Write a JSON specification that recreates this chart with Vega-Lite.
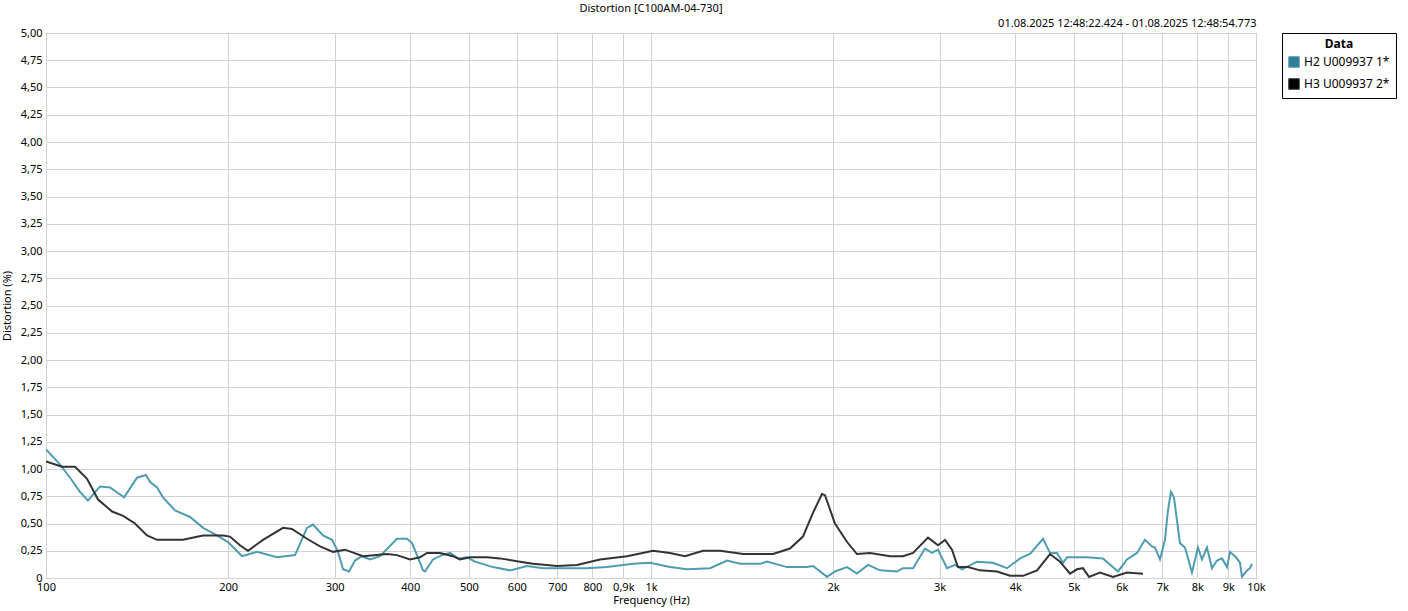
{
  "$schema": "https://vega.github.io/schema/vega-lite/v6.json",
  "autosize": {"type": "none"},
  "width": 1210,
  "height": 545,
  "padding": {"left": 46, "top": 33, "right": 152, "bottom": 33},
  "background": "white",
  "title": {"text": "Distortion [C100AM-04-730]", "anchor": "middle", "fontSize": 11, "fontWeight": "normal", "font": "Noto Sans", "color": "#000000", "offset": 3},
  "config": {
    "font": "Noto Sans",
    "view": {"stroke": "#7a7a7a", "strokeWidth": 1},
    "axis": {"labelFont": "Noto Sans", "labelFontSize": 11, "labelColor": "#000000", "titleFont": "Noto Sans", "titleFontSize": 11, "titleFontWeight": "normal", "titleColor": "#000000", "gridColor": "#d2d2d2", "gridWidth": 1, "domain": false, "ticks": false}
  },
  "data": {"values": [
    {"s": "H2 U009937 1*", "f": 100, "v": 1.18}, {"s": "H2 U009937 1*", "f": 105.5, "v": 1.04}, {"s": "H2 U009937 1*", "f": 109.6, "v": 0.92}, {"s": "H2 U009937 1*", "f": 113.8, "v": 0.79}, {"s": "H2 U009937 1*", "f": 117.3, "v": 0.71}, {"s": "H2 U009937 1*", "f": 122.8, "v": 0.84}, {"s": "H2 U009937 1*", "f": 127.6, "v": 0.83}, {"s": "H2 U009937 1*", "f": 134.6, "v": 0.74}, {"s": "H2 U009937 1*", "f": 141.4, "v": 0.92}, {"s": "H2 U009937 1*", "f": 146.3, "v": 0.945}, {"s": "H2 U009937 1*", "f": 148.6, "v": 0.88}, {"s": "H2 U009937 1*", "f": 152.6, "v": 0.83}, {"s": "H2 U009937 1*", "f": 156.1, "v": 0.74}, {"s": "H2 U009937 1*", "f": 163.4, "v": 0.62}, {"s": "H2 U009937 1*", "f": 173, "v": 0.56}, {"s": "H2 U009937 1*", "f": 181.8, "v": 0.46}, {"s": "H2 U009937 1*", "f": 191.7, "v": 0.39}, {"s": "H2 U009937 1*", "f": 199.9, "v": 0.33}, {"s": "H2 U009937 1*", "f": 209.2, "v": 0.22}, {"s": "H2 U009937 1*", "f": 210.8, "v": 0.2}, {"s": "H2 U009937 1*", "f": 223.2, "v": 0.24}, {"s": "H2 U009937 1*", "f": 240.9, "v": 0.19}, {"s": "H2 U009937 1*", "f": 258, "v": 0.21}, {"s": "H2 U009937 1*", "f": 270, "v": 0.46}, {"s": "H2 U009937 1*", "f": 276.3, "v": 0.49}, {"s": "H2 U009937 1*", "f": 287, "v": 0.39}, {"s": "H2 U009937 1*", "f": 297, "v": 0.35}, {"s": "H2 U009937 1*", "f": 303.9, "v": 0.24}, {"s": "H2 U009937 1*", "f": 309.7, "v": 0.08}, {"s": "H2 U009937 1*", "f": 316.8, "v": 0.06}, {"s": "H2 U009937 1*", "f": 324.2, "v": 0.16}, {"s": "H2 U009937 1*", "f": 332.9, "v": 0.2}, {"s": "H2 U009937 1*", "f": 343.2, "v": 0.17}, {"s": "H2 U009937 1*", "f": 356.5, "v": 0.2}, {"s": "H2 U009937 1*", "f": 380.3, "v": 0.36}, {"s": "H2 U009937 1*", "f": 395.1, "v": 0.36}, {"s": "H2 U009937 1*", "f": 402.7, "v": 0.32}, {"s": "H2 U009937 1*", "f": 410.4, "v": 0.21}, {"s": "H2 U009937 1*", "f": 419.9, "v": 0.07}, {"s": "H2 U009937 1*", "f": 423.1, "v": 0.06}, {"s": "H2 U009937 1*", "f": 436.2, "v": 0.17}, {"s": "H2 U009937 1*", "f": 451.4, "v": 0.21}, {"s": "H2 U009937 1*", "f": 465.4, "v": 0.23}, {"s": "H2 U009937 1*", "f": 479.7, "v": 0.18}, {"s": "H2 U009937 1*", "f": 496.5, "v": 0.19}, {"s": "H2 U009937 1*", "f": 511.8, "v": 0.15}, {"s": "H2 U009937 1*", "f": 548.2, "v": 0.1}, {"s": "H2 U009937 1*", "f": 584.8, "v": 0.07}, {"s": "H2 U009937 1*", "f": 623.9, "v": 0.11}, {"s": "H2 U009937 1*", "f": 663, "v": 0.09}, {"s": "H2 U009937 1*", "f": 783.9, "v": 0.09}, {"s": "H2 U009937 1*", "f": 845.8, "v": 0.1}, {"s": "H2 U009937 1*", "f": 933.9, "v": 0.13}, {"s": "H2 U009937 1*", "f": 996.2, "v": 0.14}, {"s": "H2 U009937 1*", "f": 1075, "v": 0.1}, {"s": "H2 U009937 1*", "f": 1147, "v": 0.08}, {"s": "H2 U009937 1*", "f": 1252, "v": 0.09}, {"s": "H2 U009937 1*", "f": 1336, "v": 0.16}, {"s": "H2 U009937 1*", "f": 1404, "v": 0.13}, {"s": "H2 U009937 1*", "f": 1515, "v": 0.13}, {"s": "H2 U009937 1*", "f": 1555, "v": 0.15}, {"s": "H2 U009937 1*", "f": 1678, "v": 0.1}, {"s": "H2 U009937 1*", "f": 1811, "v": 0.1}, {"s": "H2 U009937 1*", "f": 1853, "v": 0.11}, {"s": "H2 U009937 1*", "f": 1954, "v": 0.01}, {"s": "H2 U009937 1*", "f": 2014, "v": 0.06}, {"s": "H2 U009937 1*", "f": 2109, "v": 0.1}, {"s": "H2 U009937 1*", "f": 2190, "v": 0.04}, {"s": "H2 U009937 1*", "f": 2284, "v": 0.12}, {"s": "H2 U009937 1*", "f": 2391, "v": 0.07}, {"s": "H2 U009937 1*", "f": 2551, "v": 0.06}, {"s": "H2 U009937 1*", "f": 2609, "v": 0.09}, {"s": "H2 U009937 1*", "f": 2711, "v": 0.09}, {"s": "H2 U009937 1*", "f": 2837, "v": 0.27}, {"s": "H2 U009937 1*", "f": 2914, "v": 0.23}, {"s": "H2 U009937 1*", "f": 2981, "v": 0.26}, {"s": "H2 U009937 1*", "f": 3085, "v": 0.09}, {"s": "H2 U009937 1*", "f": 3181, "v": 0.12}, {"s": "H2 U009937 1*", "f": 3266, "v": 0.08}, {"s": "H2 U009937 1*", "f": 3458, "v": 0.15}, {"s": "H2 U009937 1*", "f": 3675, "v": 0.14}, {"s": "H2 U009937 1*", "f": 3877, "v": 0.09}, {"s": "H2 U009937 1*", "f": 4074, "v": 0.18}, {"s": "H2 U009937 1*", "f": 4231, "v": 0.22}, {"s": "H2 U009937 1*", "f": 4446, "v": 0.36}, {"s": "H2 U009937 1*", "f": 4566, "v": 0.23}, {"s": "H2 U009937 1*", "f": 4689, "v": 0.23}, {"s": "H2 U009937 1*", "f": 4797, "v": 0.14}, {"s": "H2 U009937 1*", "f": 4871, "v": 0.19}, {"s": "H2 U009937 1*", "f": 5256, "v": 0.19}, {"s": "H2 U009937 1*", "f": 5585, "v": 0.18}, {"s": "H2 U009937 1*", "f": 5914, "v": 0.06}, {"s": "H2 U009937 1*", "f": 6120, "v": 0.17}, {"s": "H2 U009937 1*", "f": 6357, "v": 0.23}, {"s": "H2 U009937 1*", "f": 6553, "v": 0.35}, {"s": "H2 U009937 1*", "f": 6731, "v": 0.29}, {"s": "H2 U009937 1*", "f": 6808, "v": 0.28}, {"s": "H2 U009937 1*", "f": 6939, "v": 0.17}, {"s": "H2 U009937 1*", "f": 7072, "v": 0.35}, {"s": "H2 U009937 1*", "f": 7153, "v": 0.62}, {"s": "H2 U009937 1*", "f": 7235, "v": 0.79}, {"s": "H2 U009937 1*", "f": 7318, "v": 0.74}, {"s": "H2 U009937 1*", "f": 7487, "v": 0.32}, {"s": "H2 U009937 1*", "f": 7631, "v": 0.28}, {"s": "H2 U009937 1*", "f": 7837, "v": 0.05}, {"s": "H2 U009937 1*", "f": 8018, "v": 0.28}, {"s": "H2 U009937 1*", "f": 8141, "v": 0.17}, {"s": "H2 U009937 1*", "f": 8298, "v": 0.28}, {"s": "H2 U009937 1*", "f": 8457, "v": 0.09}, {"s": "H2 U009937 1*", "f": 8620, "v": 0.16}, {"s": "H2 U009937 1*", "f": 8786, "v": 0.18}, {"s": "H2 U009937 1*", "f": 8955, "v": 0.1}, {"s": "H2 U009937 1*", "f": 9057, "v": 0.24}, {"s": "H2 U009937 1*", "f": 9267, "v": 0.19}, {"s": "H2 U009937 1*", "f": 9409, "v": 0.14}, {"s": "H2 U009937 1*", "f": 9481, "v": 0.01}, {"s": "H2 U009937 1*", "f": 9663, "v": 0.07}, {"s": "H2 U009937 1*", "f": 9774, "v": 0.09}, {"s": "H2 U009937 1*", "f": 9849, "v": 0.13},
    {"s": "H3 U009937 2*", "f": 100, "v": 1.07}, {"s": "H3 U009937 2*", "f": 106.3, "v": 1.02}, {"s": "H3 U009937 2*", "f": 111.7, "v": 1.02}, {"s": "H3 U009937 2*", "f": 116.9, "v": 0.91}, {"s": "H3 U009937 2*", "f": 121.9, "v": 0.72}, {"s": "H3 U009937 2*", "f": 128.6, "v": 0.61}, {"s": "H3 U009937 2*", "f": 134.1, "v": 0.57}, {"s": "H3 U009937 2*", "f": 140.3, "v": 0.5}, {"s": "H3 U009937 2*", "f": 146.9, "v": 0.39}, {"s": "H3 U009937 2*", "f": 152.6, "v": 0.35}, {"s": "H3 U009937 2*", "f": 168.4, "v": 0.35}, {"s": "H3 U009937 2*", "f": 181.8, "v": 0.39}, {"s": "H3 U009937 2*", "f": 196.2, "v": 0.39}, {"s": "H3 U009937 2*", "f": 201.4, "v": 0.38}, {"s": "H3 U009937 2*", "f": 209.2, "v": 0.3}, {"s": "H3 U009937 2*", "f": 215.7, "v": 0.25}, {"s": "H3 U009937 2*", "f": 228.4, "v": 0.35}, {"s": "H3 U009937 2*", "f": 246.5, "v": 0.46}, {"s": "H3 U009937 2*", "f": 255, "v": 0.45}, {"s": "H3 U009937 2*", "f": 270, "v": 0.36}, {"s": "H3 U009937 2*", "f": 283.7, "v": 0.29}, {"s": "H3 U009937 2*", "f": 298.1, "v": 0.24}, {"s": "H3 U009937 2*", "f": 312.1, "v": 0.26}, {"s": "H3 U009937 2*", "f": 334.2, "v": 0.2}, {"s": "H3 U009937 2*", "f": 366.2, "v": 0.22}, {"s": "H3 U009937 2*", "f": 380.3, "v": 0.21}, {"s": "H3 U009937 2*", "f": 399.6, "v": 0.17}, {"s": "H3 U009937 2*", "f": 415.2, "v": 0.19}, {"s": "H3 U009937 2*", "f": 426.3, "v": 0.23}, {"s": "H3 U009937 2*", "f": 448, "v": 0.23}, {"s": "H3 U009937 2*", "f": 470.7, "v": 0.2}, {"s": "H3 U009937 2*", "f": 483.4, "v": 0.17}, {"s": "H3 U009937 2*", "f": 502.2, "v": 0.19}, {"s": "H3 U009937 2*", "f": 535.8, "v": 0.19}, {"s": "H3 U009937 2*", "f": 562.9, "v": 0.18}, {"s": "H3 U009937 2*", "f": 607.5, "v": 0.15}, {"s": "H3 U009937 2*", "f": 638.3, "v": 0.13}, {"s": "H3 U009937 2*", "f": 699.5, "v": 0.11}, {"s": "H3 U009937 2*", "f": 754.6, "v": 0.12}, {"s": "H3 U009937 2*", "f": 823.6, "v": 0.17}, {"s": "H3 U009937 2*", "f": 912.8, "v": 0.2}, {"s": "H3 U009937 2*", "f": 1008, "v": 0.25}, {"s": "H3 U009937 2*", "f": 1075, "v": 0.23}, {"s": "H3 U009937 2*", "f": 1138, "v": 0.2}, {"s": "H3 U009937 2*", "f": 1219, "v": 0.25}, {"s": "H3 U009937 2*", "f": 1301, "v": 0.25}, {"s": "H3 U009937 2*", "f": 1420, "v": 0.22}, {"s": "H3 U009937 2*", "f": 1591, "v": 0.22}, {"s": "H3 U009937 2*", "f": 1697, "v": 0.27}, {"s": "H3 U009937 2*", "f": 1783, "v": 0.38}, {"s": "H3 U009937 2*", "f": 1853, "v": 0.6}, {"s": "H3 U009937 2*", "f": 1917, "v": 0.77}, {"s": "H3 U009937 2*", "f": 1939, "v": 0.76}, {"s": "H3 U009937 2*", "f": 2014, "v": 0.5}, {"s": "H3 U009937 2*", "f": 2109, "v": 0.33}, {"s": "H3 U009937 2*", "f": 2190, "v": 0.22}, {"s": "H3 U009937 2*", "f": 2302, "v": 0.23}, {"s": "H3 U009937 2*", "f": 2484, "v": 0.2}, {"s": "H3 U009937 2*", "f": 2609, "v": 0.2}, {"s": "H3 U009937 2*", "f": 2711, "v": 0.23}, {"s": "H3 U009937 2*", "f": 2870, "v": 0.37}, {"s": "H3 U009937 2*", "f": 2981, "v": 0.3}, {"s": "H3 U009937 2*", "f": 3062, "v": 0.35}, {"s": "H3 U009937 2*", "f": 3144, "v": 0.26}, {"s": "H3 U009937 2*", "f": 3216, "v": 0.1}, {"s": "H3 U009937 2*", "f": 3341, "v": 0.1}, {"s": "H3 U009937 2*", "f": 3498, "v": 0.07}, {"s": "H3 U009937 2*", "f": 3732, "v": 0.06}, {"s": "H3 U009937 2*", "f": 3921, "v": 0.02}, {"s": "H3 U009937 2*", "f": 4120, "v": 0.02}, {"s": "H3 U009937 2*", "f": 4346, "v": 0.07}, {"s": "H3 U009937 2*", "f": 4566, "v": 0.22}, {"s": "H3 U009937 2*", "f": 4743, "v": 0.15}, {"s": "H3 U009937 2*", "f": 4927, "v": 0.04}, {"s": "H3 U009937 2*", "f": 5059, "v": 0.08}, {"s": "H3 U009937 2*", "f": 5176, "v": 0.09}, {"s": "H3 U009937 2*", "f": 5296, "v": 0.01}, {"s": "H3 U009937 2*", "f": 5522, "v": 0.05}, {"s": "H3 U009937 2*", "f": 5802, "v": 0.01}, {"s": "H3 U009937 2*", "f": 6120, "v": 0.05}, {"s": "H3 U009937 2*", "f": 6504, "v": 0.04}
  ]},
  "resolve": {"axis": {"x": "independent", "y": "independent"}},
  "layer": [
    {
      "mark": {"type": "line", "strokeWidth": 2, "clip": true},
      "encoding": {
        "x": {"field": "f", "type": "quantitative", "scale": {"type": "log", "domain": [100, 10000]},
          "axis": {"orient": "bottom", "title": "Frequency (Hz)", "titlePadding": 2, "values": [100, 200, 300, 400, 500, 600, 700, 800, 900, 1000, 2000, 3000, 4000, 5000, 6000, 7000, 8000, 9000, 10000], "labelExpr": "datum.value < 900 ? datum.value + '' : (datum.value == 900 ? '0,9k' : (datum.value / 1000) + 'k')", "labelFlush": false, "labelPadding": 3, "labelOverlap": false}},
        "y": {"field": "v", "type": "quantitative", "scale": {"domain": [0, 5], "nice": false},
          "axis": {"orient": "left", "title": "Distortion (%)", "titlePadding": 8, "values": [0, 0.25, 0.5, 0.75, 1, 1.25, 1.5, 1.75, 2, 2.25, 2.5, 2.75, 3, 3.25, 3.5, 3.75, 4, 4.25, 4.5, 4.75, 5], "labelExpr": "datum.value == 0 ? '0' : replace(format(datum.value, '.2f'), '.', ',')", "labelPadding": 4, "labelFlush": false, "labelOverlap": false}},
        "color": {"field": "s", "type": "nominal",
          "scale": {"domain": ["H2 U009937 1*", "H3 U009937 2*"], "range": ["#4f9cb1", "#333333"]},
          "legend": {"title": "Data", "orient": "none", "legendX": 1236, "legendY": 0, "direction": "vertical", "titleAnchor": "middle", "titleFontWeight": "bold", "titleFontSize": 12, "titleColor": "#000000", "labelFontSize": 12, "labelColor": "#000000", "symbolType": "square", "symbolSize": 110, "strokeColor": "#000000", "fillColor": "white", "padding": 6, "rowPadding": 6, "labelLimit": 200,
            "encode": {"symbols": {"update": {"fill": {"signal": "datum.value == 'H2 U009937 1*' ? '#2e8099' : '#000000'"}, "stroke": {"value": "#555555"}, "strokeWidth": {"value": 1}, "opacity": {"value": 1}}}}}}
      }
    },
    {
      "mark": {"type": "point", "opacity": 0},
      "encoding": {
        "x": {"field": "f", "type": "quantitative", "scale": {"type": "log", "domain": [100, 10000]},
          "axis": {"orient": "top", "title": "01.08.2025 12:48:22.424 - 01.08.2025 12:48:54.773", "titleAnchor": "end", "titleAlign": "right", "titlePadding": 5, "labels": false, "grid": false, "ticks": false, "domain": false}},
        "y": {"field": "v", "type": "quantitative", "axis": null}
      }
    }
  ]
}
